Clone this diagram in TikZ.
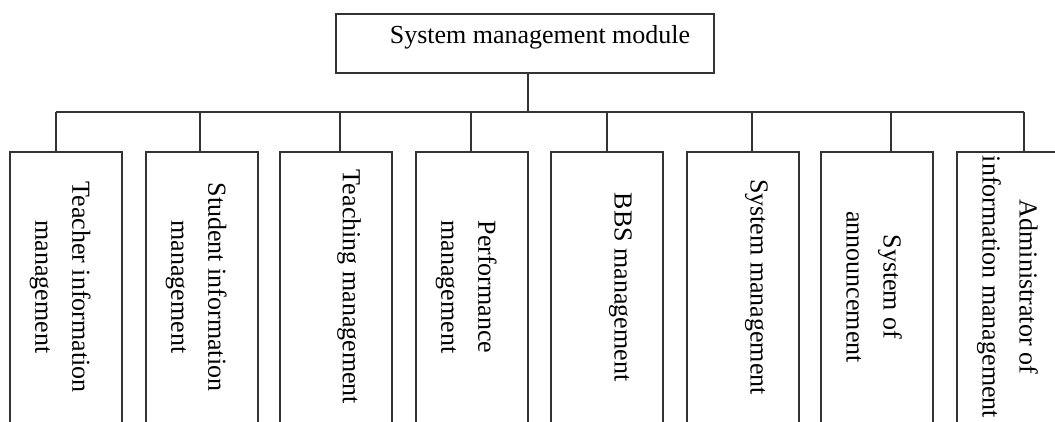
\documentclass[tikz,border=0pt]{standalone}
\usepackage{fontspec}
\setmainfont{Liberation Serif}
\begin{document}
\begin{tikzpicture}[x=1pt,y=1pt,
  line/.style={draw=black!80, line width=1.2pt},
  topbox/.style={line, minimum width=378pt, minimum height=59pt, inner sep=0pt},
  leafbox/.style={line, minimum width=112pt, minimum height=280pt, inner sep=0pt},
  vlabel/.style={rotate=-90, anchor=north, inner sep=0pt, align=center, font=\fontsize{26}{37}\selectfont},
  hlabel/.style={anchor=base, inner sep=0pt, font=\fontsize{26}{31}\selectfont}]
\useasboundingbox (0,0) rectangle (1055,422);
\clip (0,0) rectangle (1055,422);
% top box
\node[topbox] (top) at (525,378.5) {};
\node[hlabel] (toptext) at (540,378) {System management module};
% leaf boxes
\node[leafbox] (b1) at (66,130) {};
\node[leafbox] (b2) at (202,130) {};
\node[leafbox] (b3) at (336,130) {};
\node[leafbox] (b4) at (472,130) {};
\node[leafbox] (b5) at (607,130) {};
\node[leafbox] (b6) at (743,130) {};
\node[leafbox] (b7) at (877,130) {};
\node[leafbox] (b8) at (1013,130) {};
% labels
\node[vlabel] (t1) at (91,135) {Teacher information\\management};
\node[vlabel] (t2) at (227,135) {Student information\\management};
\node[vlabel] (t3) at (361,135) {Teaching management};
\node[vlabel] (t4) at (497,135) {Performance\\management};
\node[vlabel] (t5) at (632,135) {BBS management};
\node[vlabel] (t6) at (768,135) {System management};
\node[vlabel] (t7) at (902,135) {System of\\announcement};
\node[vlabel] (t8) at (1038,135) {Administrator of\\information management};
% bus coordinates
\coordinate (bm) at (528,310);
\coordinate (d1) at (56,310);
\coordinate (d2) at (200,310);
\coordinate (d3) at (340,310);
\coordinate (d4) at (471,310);
\coordinate (d5) at (607,310);
\coordinate (d6) at (752,310);
\coordinate (d7) at (891,310);
\coordinate (d8) at (1024,310);
% connectors
\draw[line] (bm |- top.south) -- (bm);
\draw[line] (d1) -- (d8);
\foreach \i in {1,...,8} {
  \draw[line] (d\i) -- (d\i |- b\i.north);
}
\end{tikzpicture}
\end{document}
